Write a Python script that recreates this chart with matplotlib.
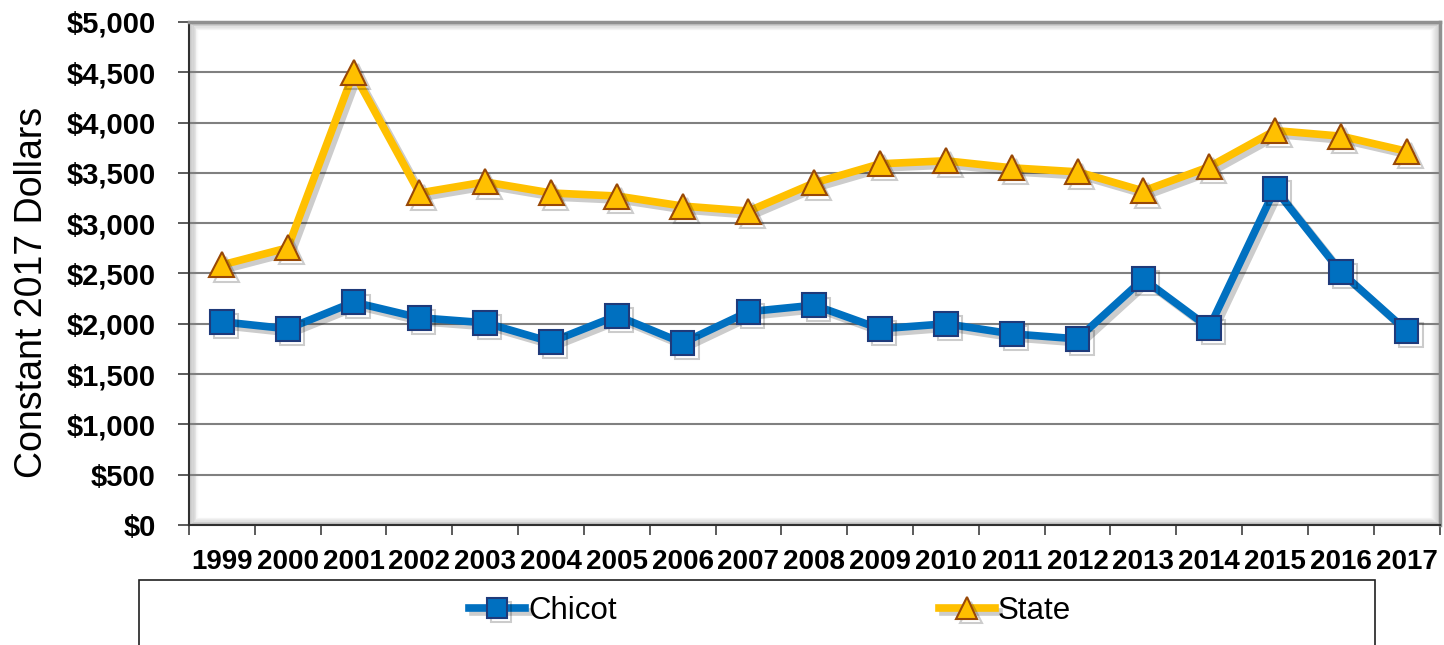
import numpy as np
import matplotlib.pyplot as plt
import matplotlib.patheffects as pe
from matplotlib.patches import Rectangle
from matplotlib.ticker import FuncFormatter

plt.rcParams['font.family'] = ['Liberation Sans', 'DejaVu Sans']

years = [str(y) for y in range(1999, 2018)]
chicot = [2020, 1950, 2215, 2060, 2010, 1820, 2080, 1810, 2120, 2185,
          1950, 2000, 1900, 1850, 2445, 1960, 3340, 2515, 1930]
state = [2585, 2755, 4495, 3300, 3410, 3300, 3270, 3170, 3120, 3400,
         3590, 3620, 3550, 3510, 3320, 3560, 3920, 3865, 3715]

fig = plt.figure(figsize=(14.44, 6.45), dpi=100)
ax = fig.add_axes([0.1309, 0.186, 0.866, 0.780])

x = np.arange(len(years))
shadow = [pe.SimpleLineShadow(offset=(3, -3), alpha=0.2, shadow_color='black'), pe.Normal()]

ax.plot(x, chicot, color='#0070C0', lw=5.5, marker='s', ms=17,
        mfc='#0070C0', mec='#1F3A7A', mew=1.5, label='Chicot', path_effects=shadow, zorder=4)
ax.plot(x, state, color='#FFC000', lw=5.5, marker='^', ms=18,
        mfc='#FFC000', mec='#984807', mew=1.5, label='State', path_effects=shadow, zorder=3)

ax.set_ylim(0, 5000)
ax.set_xlim(-0.5, len(years) - 0.5)
ax.set_yticks(np.arange(0, 5001, 500))
ax.yaxis.set_major_formatter(FuncFormatter(lambda v, p: '${:,.0f}'.format(v)))
ax.grid(axis='y', color='#808080', lw=1.5, zorder=1)
ax.set_axisbelow(True)

ax.set_xticks(np.arange(-0.5, len(years), 1))
ax.set_xticklabels([])
ax.set_xticks(x, minor=True)
ax.set_xticklabels(years, minor=True)
ax.tick_params(axis='x', which='major', length=7, width=1.2, color='#404040')
ax.tick_params(axis='x', which='minor', length=0, pad=17)
ax.tick_params(axis='y', length=8, width=1.2, color='#404040', pad=16)
for lab in ax.get_xticklabels(minor=True):
    lab.set_fontsize(20)
    lab.set_fontweight('bold')
for lab in ax.get_yticklabels():
    lab.set_fontsize(21)
    lab.set_fontweight('bold')

ax.set_ylabel('Constant 2017 Dollars', fontsize=27, labelpad=12, y=0.462)

for s in ['top', 'right']:
    ax.spines[s].set_color('#909090')
    ax.spines[s].set_linewidth(2.5)
ax.spines['left'].set_color('#303030')
ax.spines['bottom'].set_color('#303030')
ax.spines['left'].set_linewidth(1.5)
ax.spines['bottom'].set_linewidth(1.5)

# soft inner shadow along the plot frame
for i in range(10):
    a = 0.08 * (10 - i) / 10
    d = i * 0.0016
    ax.add_patch(Rectangle((d * 0.45, d), 1 - d * 0.9, 1 - 2 * d, transform=ax.transAxes,
                           fill=False, lw=2.2, ec='black', alpha=a, zorder=0.5))

# legend box
fig.patches.append(Rectangle((139 / 1444, -0.01), (1375 - 139) / 1444, 1 - 580 / 645 + 0.01,
                             transform=fig.transFigure, fill=False, ec='#202020', lw=1.2))
fig.legend(loc='center', bbox_to_anchor=(770 / 1444, 1 - 611 / 645), ncol=2, frameon=False,
           fontsize=22.5, columnspacing=10.3, handlelength=1.8, handletextpad=0.1, markerscale=0.85)

fig.savefig('out.png', dpi=100)
